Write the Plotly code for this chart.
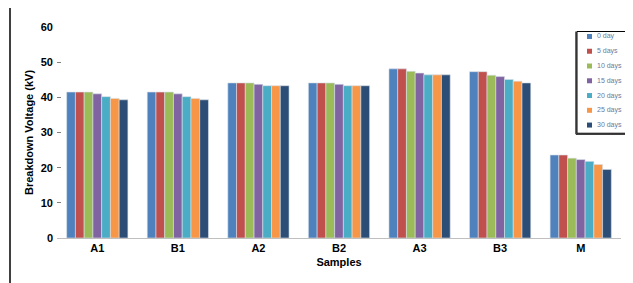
import plotly.graph_objects as go

samples = ["A1", "B1", "A2", "B2", "A3", "B3", "M"]
series_names = ["0 day", "5 days", "10 days", "15 days", "20 days", "25 days", "30 days"]
colors = ["#4F81BD", "#C0504D", "#9BBB59", "#8064A2", "#4BACC6", "#F79646", "#2C4D75"]

# values per sample for each ageing period
day0  = [41.5, 41.5, 44.1, 44.1, 48.1, 47.3, 23.6]
day5  = [41.5, 41.5, 44.1, 44.1, 48.1, 47.3, 23.6]
day10 = [41.5, 41.5, 44.1, 44.1, 47.4, 46.3, 22.7]
day15 = [41.0, 41.0, 43.7, 43.7, 46.9, 45.9, 22.3]
day20 = [40.2, 40.2, 43.3, 43.3, 46.4, 45.1, 21.8]
day25 = [39.7, 39.7, 43.3, 43.3, 46.4, 44.6, 20.9]
day30 = [39.3, 39.3, 43.3, 43.3, 46.4, 44.1, 19.5]
series_values = [day0, day5, day10, day15, day20, day25, day30]

y_ticks = [0, 10, 20, 30, 40, 50, 60]

W, H = 633, 283
OFF = 8  # page body margin offset
# target plot area in screen pixels
SX0, SX1, SY0, SY1 = 57, 621, 26.5, 238
ML = SX0 - OFF
MR = W - (SX1 - OFF)
MT = SY0 - OFF
MB = H - (SY1 - OFF)
PW, PH = W - ML - MR, H - MT - MB


def px(x):
    return (x - SX0) / PW


def py(y):
    return (SY1 - y) / PH


fig = go.Figure()
for name, vals, col in zip(series_names, series_values, colors):
    fig.add_trace(go.Bar(
        x=samples, y=vals, name=name,
        marker=dict(color=col, line=dict(color="#D8E0EA", width=0.6)),
    ))

shapes = [
    # left frame line
    dict(type="line", xref="paper", yref="paper",
         x0=px(10), x1=px(10), y0=py(290), y1=py(0),
         line=dict(color="#000000", width=1.5)),
    # legend box
    dict(type="rect", xref="paper", yref="paper",
         x0=px(577), x1=px(629), y0=py(133), y1=py(31),
         line=dict(color="#000000", width=1), fillcolor="white", layer="above"),
    dict(type="line", xref="paper", yref="paper",
         x0=px(576), x1=px(576), y0=py(134), y1=py(31),
         line=dict(color="#000000", width=1.2), layer="above"),
    dict(type="line", xref="paper", yref="paper",
         x0=px(576), x1=px(629), y0=py(134), y1=py(134),
         line=dict(color="#000000", width=1.2), layer="above"),
]
annotations = []
for i, (name, col) in enumerate(zip(series_names, colors)):
    yc = 36 + i * 14.8
    shapes.append(dict(type="rect", xref="paper", yref="paper",
                       x0=px(587), x1=px(592), y0=py(yc + 2.5), y1=py(yc - 2.5),
                       line=dict(width=0), fillcolor=col, layer="above"))
    annotations.append(dict(xref="paper", yref="paper", x=px(595), y=py(yc),
                            xanchor="left", yanchor="middle", showarrow=False,
                            text=name, font=dict(size=7, color="#6a7a9a")))

fig.update_layout(
    width=W, height=H,
    margin=dict(l=ML, r=MR, t=MT, b=MB, autoexpand=False),
    paper_bgcolor="white", plot_bgcolor="white",
    barmode="group", bargap=0.24, bargroupgap=0,
    font=dict(family="Liberation Sans, Arial, sans-serif", color="#000000"),
    showlegend=False,
    xaxis=dict(
        showgrid=False, zeroline=False, automargin=False,
        showline=True, linecolor="#BFBFBF", linewidth=1,
        ticks="", tickfont=dict(size=11),
        tickprefix="<b>", ticksuffix="</b>",
        title=dict(text="<b>Samples</b>", font=dict(size=11), standoff=5),
    ),
    yaxis=dict(
        range=[0, 60], tickvals=y_ticks, automargin=False,
        ticktext=["<b>%d</b>" % v for v in y_ticks],
        showgrid=False, zeroline=False, showline=False,
        ticks="inside", ticklen=4, tickcolor="#808080",
        tickfont=dict(size=11),
        ticklabelstandoff=3,
        title=dict(text="<b>Breakdown Voltage (kV)</b>", font=dict(size=11), standoff=4),
    ),
    shapes=shapes,
    annotations=annotations,
)

fig.write_html("out.html")
